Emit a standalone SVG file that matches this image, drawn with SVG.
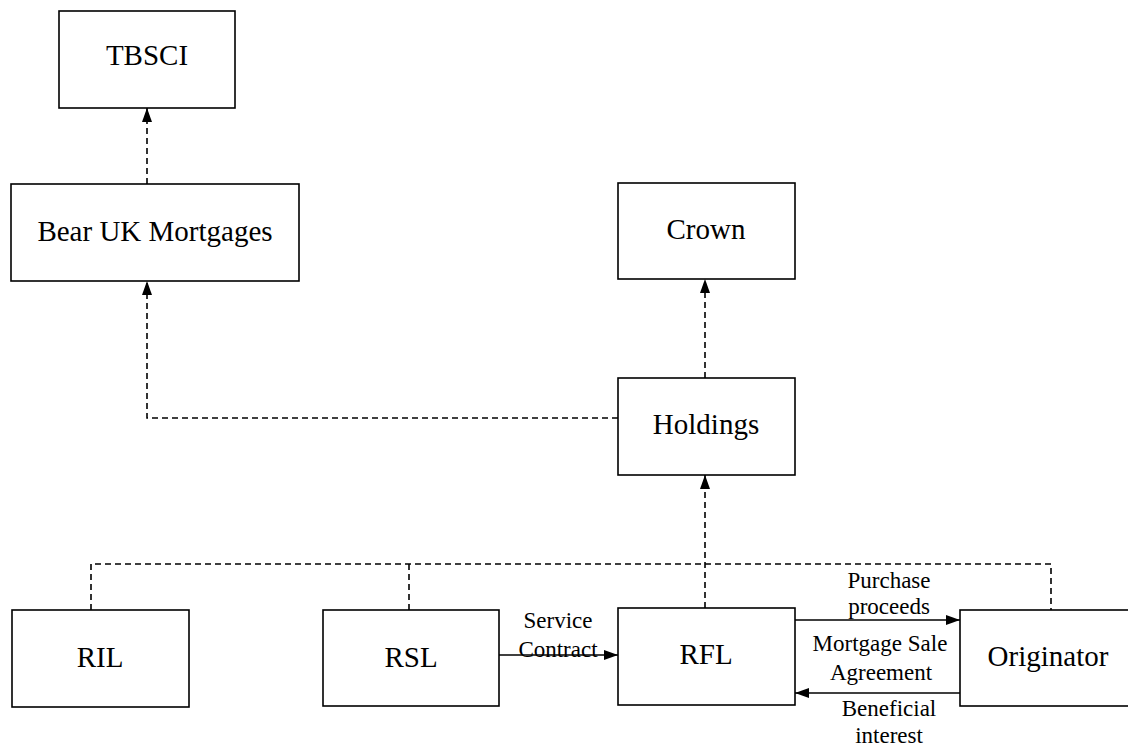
<svg xmlns="http://www.w3.org/2000/svg" width="1128" height="746" viewBox="0 0 1128 746">
<style>
.box{fill:#fff;stroke:#000;stroke-width:1.6}
.lbl{font-family:"Liberation Serif","Times New Roman",serif;font-size:29px;text-anchor:middle;fill:#000}
.sm{font-family:"Liberation Serif","Times New Roman",serif;font-size:23px;text-anchor:middle;fill:#000}
.dash{fill:none;stroke:#000;stroke-width:1.6;stroke-dasharray:6,4}
.solid{fill:none;stroke:#000;stroke-width:1.6}
</style>
<defs>
<marker id="arr" markerWidth="14" markerHeight="10" refX="14" refY="5" orient="auto" markerUnits="userSpaceOnUse">
<path d="M0,0 L14,5 L0,10 Z" fill="#000"/>
</marker>
</defs>
<rect width="1128" height="746" fill="#fff"/>
<g id="connectors">
<path class="dash" d="M147,184 V108" marker-end="url(#arr)"/>
<path class="dash" d="M618,418 H147 V281" marker-end="url(#arr)"/>
<path class="dash" d="M705,378 V279" marker-end="url(#arr)"/>
<path class="dash" d="M705,608 V475" marker-end="url(#arr)"/>
<path class="dash" d="M91,610 V564 H1051 V610"/>
<path class="dash" d="M409,610 V564"/>
<path class="solid" d="M499,655 H618" marker-end="url(#arr)"/>
<path class="solid" d="M795,620 H960" marker-end="url(#arr)"/>
<path class="solid" d="M960,693 H795" marker-end="url(#arr)"/>
<text class="sm" x="558" y="628">Service</text>
<text class="sm" x="558" y="657">Contract</text>
<text class="sm" x="889" y="588">Purchase</text>
<text class="sm" x="889" y="614">proceeds</text>
<text class="sm" x="880" y="651">Mortgage Sale</text>
<text class="sm" x="881" y="680">Agreement</text>
<text class="sm" x="889" y="716">Beneficial</text>
<text class="sm" x="889" y="743">interest</text>
</g>
<g id="tbsci"><rect class="box" x="59" y="11" width="176" height="97"/><text class="lbl" x="147" y="65">TBSCI</text></g>
<g id="bear"><rect class="box" x="11" y="184" width="288" height="97"/><text class="lbl" x="155" y="241">Bear UK Mortgages</text></g>
<g id="crown"><rect class="box" x="618" y="183" width="177" height="96"/><text class="lbl" x="706" y="239">Crown</text></g>
<g id="holdings"><rect class="box" x="618" y="378" width="177" height="97"/><text class="lbl" x="706" y="434">Holdings</text></g>
<g id="ril"><rect class="box" x="12" y="610" width="177" height="97"/><text class="lbl" x="100" y="667">RIL</text></g>
<g id="rsl"><rect class="box" x="323" y="610" width="176" height="96"/><text class="lbl" x="411" y="667">RSL</text></g>
<g id="rfl"><rect class="box" x="618" y="608" width="177" height="97"/><text class="lbl" x="706" y="664">RFL</text></g>
<g id="originator"><rect class="box" x="960" y="610" width="180" height="96"/><text class="lbl" x="1048" y="666">Originator</text></g>
</svg>
